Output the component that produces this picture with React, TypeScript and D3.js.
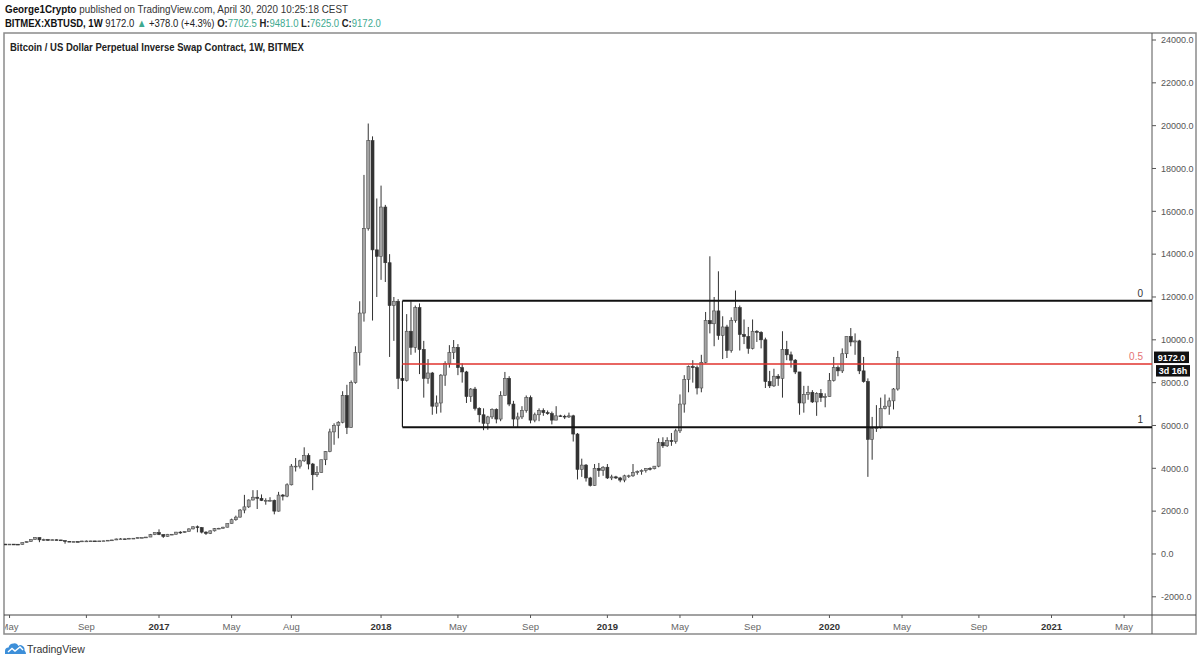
import React from 'react';
import * as d3 from 'd3';

// weekly candles, [open, high, low, close], consecutive weeks from firstWeek
type Candle = [number, number, number, number];

const firstWeek = Date.UTC(2016, 3, 25);
const WEEK = 7 * 24 * 3600 * 1000;

const candles2016: Candle[] = [
  [460, 470, 440, 455], [455, 465, 440, 460], [460, 463, 445, 455], [455, 460, 435, 445],
  [445, 530, 440, 530], [530, 590, 525, 575], [575, 680, 570, 670], [670, 780, 670, 765],
  [765, 770, 550, 660], [660, 710, 610, 670], [670, 700, 630, 650], [650, 680, 640, 665],
  [665, 680, 645, 655], [655, 660, 620, 625], [625, 630, 480, 590], [590, 600, 570, 570],
  [570, 590, 565, 580], [580, 590, 565, 570], [570, 615, 565, 605], [605, 630, 600, 605],
  [605, 615, 600, 610], [610, 610, 590, 600], [600, 610, 595, 610], [610, 620, 605, 615],
  [615, 645, 610, 640], [640, 660, 625, 655], [655, 720, 650, 700], [700, 745, 680, 705],
  [705, 720, 690, 700], [700, 750, 695, 730], [730, 745, 725, 735], [735, 775, 730, 765],
  [765, 775, 755, 770], [770, 795, 765, 790], [790, 935, 790, 900], [900, 1000, 880, 1000],
];

const candles2017: Candle[] = [
  [1000, 1150, 880, 910], [910, 910, 750, 820], [820, 935, 810, 920], [920, 925, 880, 920],
  [920, 1030, 910, 1020], [1020, 1065, 940, 1000], [1000, 1060, 985, 1050], [1050, 1200, 1050, 1170],
  [1170, 1290, 1150, 1270], [1270, 1330, 1010, 1230], [1230, 1260, 960, 1020], [1020, 1060, 890, 960],
  [960, 1100, 930, 1080], [1080, 1210, 1050, 1180], [1180, 1220, 1160, 1200], [1200, 1270, 1190, 1250],
  [1250, 1420, 1240, 1420], [1420, 1650, 1420, 1600], [1600, 1790, 1550, 1720], [1720, 2100, 1700, 2050],
  [2050, 2760, 1900, 2200], [2200, 2550, 2150, 2520], [2520, 2980, 2500, 2650], [2650, 2980, 2100, 2600],
  [2600, 2780, 2470, 2500], [2500, 2600, 2300, 2500], [2500, 2650, 2460, 2500], [2500, 2540, 1850, 2000],
  [2000, 2900, 1980, 2750], [2750, 2800, 2500, 2700], [2700, 3300, 2650, 3230], [3230, 4200, 3200, 4100],
  [4100, 4480, 3850, 4100], [4100, 4400, 3990, 4350], [4350, 4980, 4300, 4600], [4600, 4700, 3950, 4200],
  [4200, 4250, 2980, 3700], [3700, 4100, 3600, 3800], [3800, 4400, 3800, 4400], [4400, 4800, 4150, 4780],
  [4780, 5850, 4750, 5700], [5700, 6100, 5100, 6000], [6000, 6200, 5400, 6150], [6150, 7600, 6100, 7400],
  [7400, 7900, 5600, 5900], [5900, 8100, 5900, 8000], [8000, 9700, 7950, 9400], [9400, 11800, 8800, 11250],
  [11250, 17700, 10850, 15200], [15200, 20100, 15100, 19300], [19300, 19500, 10900, 14200], [14200, 16600, 12000, 13900],
];

const candles2018: Candle[] = [
  [13900, 17200, 12800, 16200], [16200, 16300, 12700, 13600], [13600, 14000, 9200, 11600], [11600, 12000, 9950, 11800],
  [11800, 11900, 7700, 8200], [8200, 8800, 5950, 8100], [8100, 11200, 8050, 10400], [10400, 11800, 9300, 9650],
  [9650, 11600, 9400, 11500], [11500, 11700, 8400, 9550], [9550, 9950, 7300, 8200], [8200, 9100, 7950, 8450],
  [8450, 8500, 6500, 6900], [6900, 7400, 6550, 7050], [7050, 8400, 6600, 8350], [8350, 9000, 7850, 8900],
  [8900, 9750, 8700, 9400], [9400, 9990, 9100, 9650], [9650, 9800, 8350, 8700], [8700, 8900, 8000, 8500],
  [8500, 8550, 7050, 7350], [7350, 7750, 7100, 7700], [7700, 7800, 6700, 6800], [6800, 6850, 6150, 6500],
  [6500, 6800, 5780, 6100], [6100, 6450, 5800, 6400], [6400, 6800, 6300, 6750], [6750, 6800, 6100, 6300],
  [6300, 7600, 6200, 7400], [7400, 8500, 7400, 8200], [8200, 8300, 6900, 7000], [7000, 7150, 5950, 6300],
  [6300, 6600, 5900, 6400], [6400, 6900, 6300, 6700], [6700, 7400, 6600, 7300], [7300, 7400, 6100, 6250],
  [6250, 6600, 6150, 6500], [6500, 6800, 6200, 6700], [6700, 6800, 6450, 6600], [6600, 6700, 6500, 6550],
  [6550, 6650, 6050, 6250], [6250, 6900, 6250, 6450], [6450, 6500, 6400, 6430], [6430, 6500, 6300, 6400],
  [6400, 6600, 6350, 6450], [6450, 6500, 5250, 5600], [5600, 5650, 3480, 3950], [3950, 4450, 3600, 4150],
  [4150, 4200, 3380, 3550], [3550, 3600, 3150, 3200], [3200, 4200, 3180, 4000], [4000, 4250, 3600, 3900],
  [3900, 4100, 3650, 4050],
];

const candles2019: Candle[] = [
  [4050, 4200, 3500, 3550], [3550, 3700, 3450, 3600], [3600, 3650, 3500, 3550], [3550, 3600, 3350, 3450],
  [3450, 3700, 3350, 3650], [3650, 3700, 3550, 3650], [3650, 4200, 3600, 3800], [3800, 3900, 3700, 3850],
  [3850, 3950, 3700, 3900], [3900, 4000, 3800, 3990], [3990, 4050, 3900, 3980], [3980, 4100, 3950, 4100],
  [4100, 5400, 4050, 5200], [5200, 5450, 4950, 5050], [5050, 5450, 5000, 5300], [5300, 5650, 5050, 5250],
  [5250, 5850, 5150, 5750], [5750, 7450, 5650, 7000], [7000, 8350, 6600, 8150], [8150, 8800, 7550, 8750],
  [8750, 9050, 8000, 8700], [8700, 8800, 7450, 7750], [7750, 9300, 7550, 8950], [8950, 11300, 8900, 10900],
  [10900, 13900, 10300, 10750], [10750, 12000, 9700, 11350], [11350, 13200, 10000, 10200], [10200, 11100, 9100, 10600],
  [10600, 10700, 9150, 9500], [9500, 11050, 9400, 10900], [10900, 12300, 10800, 11500], [11500, 11600, 9500, 10250],
  [10250, 10950, 9800, 10150], [10150, 10600, 9350, 9600], [9600, 10950, 9550, 10400], [10400, 10450, 9900, 10350],
  [10350, 10400, 9600, 10000], [10000, 10100, 7750, 8050], [8050, 8550, 7750, 7850], [7850, 8650, 7800, 8300],
  [8300, 8400, 7850, 8200], [8200, 10400, 7300, 9550], [9550, 9950, 9050, 9300], [9300, 9450, 8700, 9050],
  [9050, 9100, 8400, 8500], [8500, 8500, 6500, 7050], [7050, 7850, 6600, 7450], [7450, 7850, 7200, 7550],
  [7550, 7650, 7050, 7100], [7100, 7550, 6450, 7500], [7500, 7700, 7100, 7300], [7300, 7500, 6850, 7350],
];

const candles2020: Candle[] = [
  [7350, 8450, 7350, 8100], [8100, 9200, 8050, 8700], [8700, 8800, 8300, 8550], [8550, 9600, 8450, 9350],
  [9350, 10150, 9150, 10150], [10150, 10550, 9700, 9900], [9900, 10300, 9300, 9950], [9950, 10000, 8400, 8550],
  [8550, 9200, 8000, 8050], [8050, 8200, 3600, 5350], [5350, 6400, 4400, 5850], [5850, 6950, 5700, 5900],
  [5900, 7300, 5850, 6800], [6800, 7450, 6750, 6900], [6900, 7300, 6500, 7150], [7150, 7750, 6750, 7702.5],
  [7702.5, 9481, 7625, 9172],
];

const priceTicks = [-2000, 0, 2000, 4000, 6000, 8000, 10000, 12000, 14000, 16000, 18000, 20000, 22000, 24000];

const timeTicks: [string, string][] = [
  ['2016-05-02', 'May'], ['2016-09-05', 'Sep'], ['2017-01-02', '2017'], ['2017-05-01', 'May'],
  ['2017-08-07', 'Aug'], ['2018-01-01', '2018'], ['2018-05-07', 'May'], ['2018-09-03', 'Sep'],
  ['2019-01-07', '2019'], ['2019-05-06', 'May'], ['2019-09-02', 'Sep'], ['2020-01-06', '2020'],
  ['2020-05-04', 'May'], ['2020-09-07', 'Sep'], ['2021-01-04', '2021'], ['2021-05-03', 'May'],
];

const fibStart = '2018-02-05';
const fibLevels: [string, number][] = [['0', 11820], ['0.5', 8870], ['1', 5920]];
const lastClose = 9172.0;
const countdown = '3d 16h';

const W = 1200, H = 663;
const frame = { left: 4, right: 1196, top: 33, bottom: 634, axisX: 1152, axisY: 615 };
const FONT = '"Liberation Sans", Arial, sans-serif';
const TEAL = '#3ea98f';

const App: React.FC = () => {
  const candles = [...candles2016, ...candles2017, ...candles2018, ...candles2019, ...candles2020];

  const x = d3.scaleUtc()
    .domain([new Date('2017-01-02'), new Date('2021-01-04')])
    .range([159, 1051.5]);
  const y = d3.scaleLinear().domain([-2000, 24000]).range([596.8, 40]);

  const bodyW = 3;
  const fx = x(new Date(fibStart));
  const fy0 = y(fibLevels[0][1]);
  const fy1 = y(fibLevels[2][1]);
  const ly = y(lastClose);

  return (
    <svg width={W} height={H} style={{ display: 'block', position: 'absolute', left: 0, top: 0, background: '#fff' }}
      fontFamily={FONT}>
      <defs>
        <clipPath id="plot">
          <rect x={frame.left} y={frame.top} width={frame.axisX - frame.left} height={frame.axisY - frame.top} />
        </clipPath>
        <clipPath id="timeAxis">
          <rect x={frame.left + 1} y={frame.axisY} width={frame.axisX - frame.left - 1} height={frame.bottom - frame.axisY} />
        </clipPath>
      </defs>
      <rect width={W} height={H} fill="#fff" />

      {/* header */}
      <g transform="translate(5,13) scale(0.895,1)">
        <text fontSize={11} fill="#333">
          <tspan fontWeight="bold" fill="#111">George1Crypto</tspan>
          <tspan> published on TradingView.com, April 30, 2020 10:25:18 CEST</tspan>
        </text>
      </g>
      <g transform="translate(5,27) scale(0.865,1)">
        <text fontSize={11} fill="#222">
          <tspan fontWeight="bold" fill="#111">BITMEX:XBTUSD, 1W</tspan>
          <tspan> 9172.0 </tspan>
          <tspan fill={TEAL}>▲</tspan>
          <tspan> +378.0 (+4.3%) </tspan>
          <tspan fontWeight="bold">O:</tspan><tspan fill={TEAL}>7702.5</tspan>
          <tspan fontWeight="bold"> H:</tspan><tspan fill={TEAL}>9481.0</tspan>
          <tspan fontWeight="bold"> L:</tspan><tspan fill={TEAL}>7625.0</tspan>
          <tspan fontWeight="bold"> C:</tspan><tspan fill={TEAL}>9172.0</tspan>
        </text>
      </g>

      {/* frame */}
      <rect x={frame.left} y={frame.top} width={frame.right - frame.left} height={frame.bottom - frame.top}
        fill="none" stroke="#8a8a8a" strokeWidth={1.5} />
      <line x1={frame.axisX} x2={frame.axisX} y1={frame.top} y2={frame.bottom} stroke="#555" strokeWidth={1} />
      <line x1={frame.left} x2={frame.right} y1={frame.axisY} y2={frame.axisY} stroke="#444" strokeWidth={1} />

      <g transform="translate(10,50.5) scale(0.905,1)">
        <text fontSize={10.5} fontWeight="bold" fill="#222">Bitcoin / US Dollar Perpetual Inverse Swap Contract, 1W, BITMEX</text>
      </g>

      {/* candles */}
      <g clipPath="url(#plot)">
        {candles.map((c, i) => {
          const cx = x(new Date(firstWeek + i * WEEK));
          const [o, h, l, cl] = c;
          const up = cl >= o;
          const top = y(Math.max(o, cl));
          const bot = y(Math.min(o, cl));
          return (
            <g key={i}>
              <line x1={cx} x2={cx} y1={y(h)} y2={y(l)} stroke="#333" strokeWidth={1} />
              <rect x={cx - bodyW / 2} y={top} width={bodyW} height={Math.max(bot - top, 0.8)}
                fill={up ? '#a4a4a4' : '#333'} stroke={up ? '#4a4a4a' : '#333'} strokeWidth={0.6} />
            </g>
          );
        })}

        {/* fib retracement */}
        <line x1={fx} x2={fx} y1={fy0} y2={fy1} stroke="#111" strokeWidth={1} />
        {fibLevels.map(([r, p]) => (
          <g key={r}>
            <line x1={fx} x2={frame.axisX} y1={y(p)} y2={y(p)}
              stroke={r === '0.5' ? '#e0332e' : '#111'} strokeWidth={r === '0.5' ? 1.3 : 2} />
            <text x={frame.axisX - 9} y={y(p) - 4} textAnchor="end" fontSize={10}
              fill={r === '0.5' ? '#e57373' : '#333'}>{r}</text>
          </g>
        ))}
      </g>

      {/* price axis */}
      {priceTicks.map(p => (
        <g key={p}>
          <line x1={frame.axisX} x2={frame.axisX + 4} y1={y(p)} y2={y(p)} stroke="#555" />
          <text x={frame.axisX + 9} y={y(p) + 3.2} fontSize={9} fill="#555">{d3.format('.1f')(p).replace('−', '-')}</text>
        </g>
      ))}
      <rect x={frame.axisX + 2} y={ly - 6} width={35} height={11.5} fill="#111" />
      <text x={frame.axisX + 19.5} y={ly + 3.2} textAnchor="middle" fontSize={9} fontWeight="bold" fill="#fff">
        {d3.format('.1f')(lastClose)}
      </text>
      <rect x={frame.axisX + 4} y={ly + 7.5} width={34} height={11.5} fill="#111" />
      <text x={frame.axisX + 21} y={ly + 16.5} textAnchor="middle" fontSize={9} fontWeight="bold" fill="#fff">
        {countdown}
      </text>

      {/* time axis */}
      <g clipPath="url(#timeAxis)">
        {timeTicks.map(([d, label]) => {
          const tx = x(new Date(d));
          const isYear = /^\d{4}$/.test(label);
          return (
            <g key={d}>
              <line x1={tx} x2={tx} y1={frame.axisY} y2={frame.axisY + 3} stroke="#555" />
              <text x={tx} y={629.5} textAnchor="middle" fontSize={9.5}
                fill={isYear ? '#333' : '#666'} fontWeight={isYear ? 'bold' : 'normal'}>{label}</text>
            </g>
          );
        })}
      </g>

      {/* footer logo */}
      <g transform="translate(5,642)">
        <path d="M0,12 L0,9 Q0,5.5 3.5,5.5 Q4.5,1.5 8.5,1.5 Q12,0.5 13.5,4 Q15,2.5 17,3.5 Q20,5 19.5,8.5 Q21,9.5 21,12 Z"
          fill="#3d8fd9" />
        <polyline points="3,10 7,6.5 10,9 15,5 18,8" fill="none" stroke="#fff" strokeWidth={1.4} />
      </g>
      <text x={27} y={652.5} fontSize={10.5} fill="#333">TradingView</text>
    </svg>
  );
};

export default App;
